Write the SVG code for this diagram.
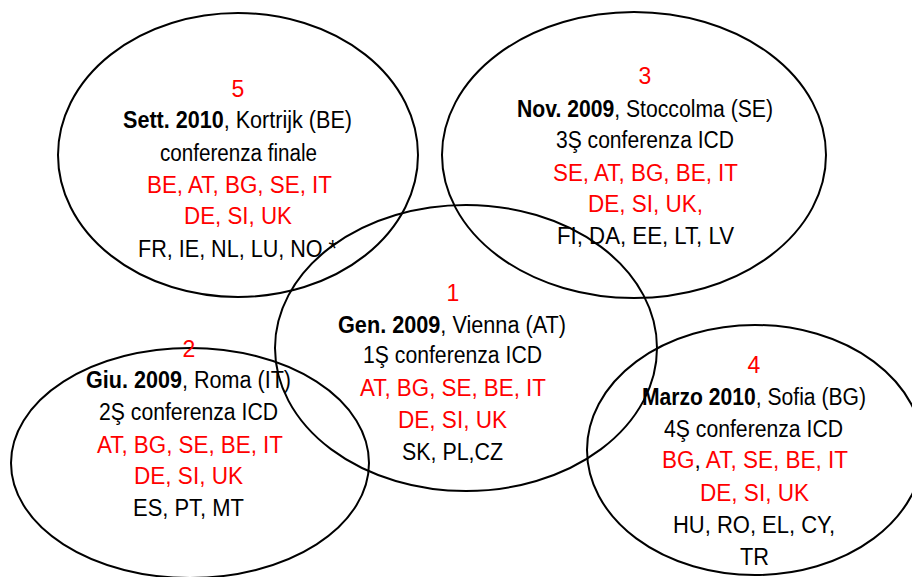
<svg xmlns="http://www.w3.org/2000/svg" width="912" height="577" viewBox="0 0 912 577">
<style>
.e{fill:none;stroke:#000;stroke-width:2}
text{font-family:"Liberation Sans Narrow","Liberation Sans",Arial,sans-serif;font-size:23px;text-anchor:middle}
.k{fill:#000}
.r{fill:#ff0000}
.b{font-weight:bold}
</style>
<rect width="912" height="577" fill="#fff"/>
<g id="shapes">
<ellipse class="e" cx="238" cy="155" rx="180" ry="142"/>
<ellipse class="e" cx="634" cy="155" rx="192" ry="143"/>
<ellipse class="e" cx="466" cy="348" rx="191" ry="143"/>
<ellipse class="e" cx="190" cy="463" rx="179" ry="115"/>
<ellipse class="e" cx="755" cy="450" rx="168" ry="125"/>
</g>
<g id="node5">
<text class="r" x="238" y="97">5</text>
<text class="k" x="237.5" y="128" textLength="229" lengthAdjust="spacingAndGlyphs"><tspan class="b">Sett. 2010</tspan>, Kortrijk (BE)</text>
<text class="k" x="238.5" y="161" textLength="157" lengthAdjust="spacingAndGlyphs">conferenza finale</text>
<text class="r" x="239.5" y="193" textLength="185" lengthAdjust="spacingAndGlyphs">BE, AT, BG, SE, IT</text>
<text class="r" x="238" y="224" textLength="108" lengthAdjust="spacingAndGlyphs">DE, SI, UK</text>
<text class="k" x="237.5" y="257" textLength="199" lengthAdjust="spacingAndGlyphs">FR, IE, NL, LU, NO *</text>
</g>
<g id="node3">
<text class="r" x="645" y="84">3</text>
<text class="k" x="645" y="117" textLength="256" lengthAdjust="spacingAndGlyphs"><tspan class="b">Nov. 2009</tspan>, Stoccolma (SE)</text>
<text class="k" x="645" y="148" textLength="178" lengthAdjust="spacingAndGlyphs">3Ş conferenza ICD</text>
<text class="r" x="645.5" y="181" textLength="185" lengthAdjust="spacingAndGlyphs">SE, AT, BG, BE, IT</text>
<text class="r" x="645.5" y="212" textLength="115" lengthAdjust="spacingAndGlyphs">DE, SI, UK,</text>
<text class="k" x="645.5" y="244" textLength="177" lengthAdjust="spacingAndGlyphs">FI, DA, EE, LT, LV</text>
</g>
<g id="node1">
<text class="r" x="453" y="301">1</text>
<text class="k" x="452" y="333" textLength="228" lengthAdjust="spacingAndGlyphs"><tspan class="b">Gen. 2009</tspan>, Vienna (AT)</text>
<text class="k" x="452.5" y="363" textLength="179" lengthAdjust="spacingAndGlyphs">1Ş conferenza ICD</text>
<text class="r" x="453" y="396" textLength="186" lengthAdjust="spacingAndGlyphs">AT, BG, SE, BE, IT</text>
<text class="r" x="452.5" y="428" textLength="109" lengthAdjust="spacingAndGlyphs">DE, SI, UK</text>
<text class="k" x="452.5" y="460" textLength="101" lengthAdjust="spacingAndGlyphs">SK, PL,CZ</text>
</g>
<g id="node2">
<text class="r" x="189" y="357">2</text>
<text class="k" x="188.5" y="388" textLength="205" lengthAdjust="spacingAndGlyphs"><tspan class="b">Giu. 2009</tspan>, Roma (IT)</text>
<text class="k" x="188.5" y="420" textLength="179" lengthAdjust="spacingAndGlyphs">2Ş conferenza ICD</text>
<text class="r" x="190" y="453" textLength="186" lengthAdjust="spacingAndGlyphs">AT, BG, SE, BE, IT</text>
<text class="r" x="188.5" y="484" textLength="109" lengthAdjust="spacingAndGlyphs">DE, SI, UK</text>
<text class="k" x="188.5" y="516" textLength="111" lengthAdjust="spacingAndGlyphs">ES, PT, MT</text>
</g>
<g id="node4">
<text class="r" x="754" y="373">4</text>
<text class="k" x="754" y="405" textLength="224" lengthAdjust="spacingAndGlyphs"><tspan class="b">Marzo 2010</tspan>, Sofia (BG)</text>
<text class="k" x="753.5" y="437" textLength="179" lengthAdjust="spacingAndGlyphs">4Ş conferenza ICD</text>
<text class="r" x="755" y="468" textLength="186" lengthAdjust="spacingAndGlyphs">BG<tspan class="k">,</tspan> AT, SE, BE, IT</text>
<text class="r" x="754.5" y="501" textLength="109" lengthAdjust="spacingAndGlyphs">DE, SI, UK</text>
<text class="k" x="754" y="533" textLength="162" lengthAdjust="spacingAndGlyphs">HU, RO, EL, CY,</text>
<text class="k" x="754.5" y="565" textLength="29" lengthAdjust="spacingAndGlyphs">TR</text>
</g>
</svg>
